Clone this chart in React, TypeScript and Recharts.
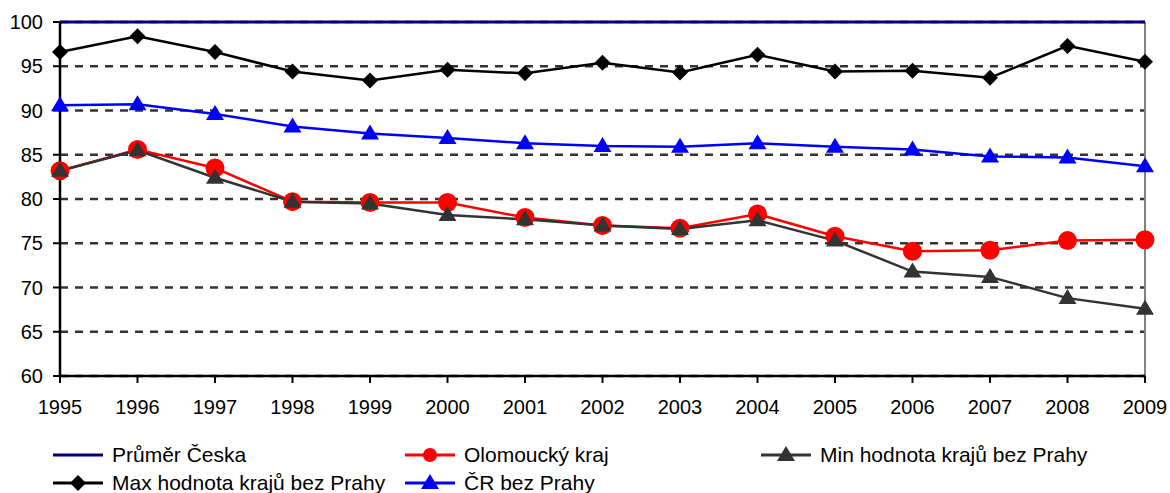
import { LineChart, Line, XAxis, YAxis, CartesianGrid, ReferenceLine } from "recharts";

const years = [1995, 1996, 1997, 1998, 1999, 2000, 2001, 2002, 2003, 2004, 2005, 2006, 2007, 2008, 2009];
const prumerCeska = [100, 100, 100, 100, 100, 100, 100, 100, 100, 100, 100, 100, 100, 100, 100];
const olomouckyKraj = [83.2, 85.6, 83.5, 79.7, 79.6, 79.6, 77.9, 77.0, 76.7, 78.3, 75.8, 74.1, 74.2, 75.3, 75.4];
const minKraju = [83.2, 85.5, 82.4, 79.7, 79.5, 78.2, 77.7, 77.0, 76.6, 77.6, 75.3, 71.8, 71.2, 68.8, 67.6];
const maxKraju = [96.6, 98.4, 96.6, 94.4, 93.4, 94.6, 94.2, 95.4, 94.3, 96.3, 94.4, 94.5, 93.7, 97.3, 95.5];
const crBezPrahy = [90.6, 90.7, 89.6, 88.2, 87.4, 86.9, 86.3, 86.0, 85.9, 86.3, 85.9, 85.6, 84.8, 84.7, 83.7];
const yTicks = [60, 65, 70, 75, 80, 85, 90, 95, 100];

const data = years.map((year, i) => ({
  year,
  prumer: prumerCeska[i],
  olomouc: olomouckyKraj[i],
  min: minKraju[i],
  max: maxKraju[i],
  cr: crBezPrahy[i],
}));

const FONT = "'Liberation Sans', Arial, sans-serif";

function triangle(cx: number, cy: number, fill: string, key?: string) {
  return <path key={key} d={`M${cx},${cy - 9}L${cx + 9},${cy + 6}L${cx - 9},${cy + 6}Z`} fill={fill} />;
}

function diamond(cx: number, cy: number, key?: string) {
  return <path key={key} d={`M${cx},${cy - 8}L${cx + 8},${cy}L${cx},${cy + 8}L${cx - 8},${cy}Z`} fill="#000" />;
}

const TriDot = (color: string) => (props: any) =>
  triangle(props.cx, props.cy, color, `t-${color}-${props.index}`);
const DiamondDot = (props: any) => diamond(props.cx, props.cy, `d-${props.index}`);

// legend drawn separately, positions follow the reference layout
const legendItems = [
  { name: "Průměr Česka", color: "#000080", marker: "none", x: 53, row: 0 },
  { name: "Olomoucký kraj", color: "#ff0000", marker: "circle", x: 405, row: 0 },
  { name: "Min hodnota krajů bez Prahy", color: "#333333", marker: "triangle", x: 761, row: 0 },
  { name: "Max hodnota krajů bez Prahy", color: "#000000", marker: "diamond", x: 53, row: 1 },
  { name: "ČR bez Prahy", color: "#0000ff", marker: "triangle", x: 405, row: 1 },
];

function ChartLegend() {
  return (
    <svg width={1170} height={63} style={{ position: "absolute", left: 0, top: 430 }}>
      {legendItems.map((it) => {
        const y = 25 + it.row * 28;
        const mx = it.x + 25;
        return (
          <g key={it.name}>
            <line x1={it.x} x2={it.x + 50} y1={y} y2={y} stroke={it.color} strokeWidth={3} />
            {it.marker === "circle" && <circle cx={mx} cy={y} r={7} fill={it.color} />}
            {it.marker === "triangle" && triangle(mx, y, it.color)}
            {it.marker === "diamond" && diamond(mx, y)}
            <text x={it.x + 59} y={y + 7} fontSize={21} fontFamily={FONT} fill="#000">
              {it.name}
            </text>
          </g>
        );
      })}
    </svg>
  );
}

export default function App() {
  return (
    <div style={{ position: "absolute", left: 0, top: 0, width: 1170, height: 493, background: "#fff" }}>
      <LineChart
        width={1170}
        height={493}
        data={data}
        margin={{ top: 22, right: 25, left: 0, bottom: 77 }}
      >
        <CartesianGrid
          horizontal
          vertical={false}
          stroke="#333"
          strokeWidth={2.5}
          strokeDasharray="8 7"
        />
        <XAxis
          dataKey="year"
          type="number"
          domain={[1995, 2009]}
          ticks={years}
          interval={0}
          height={40}
          axisLine={{ stroke: "#000", strokeWidth: 2.5 }}
          tickLine={{ stroke: "#000", strokeWidth: 2 }}
          tickSize={7}
          tickMargin={17}
          tick={{ fontSize: 20, fill: "#000", fontFamily: FONT }}
        />
        <YAxis
          domain={[60, 100]}
          ticks={yTicks}
          interval={0}
          width={60}
          axisLine={{ stroke: "#000", strokeWidth: 2.5 }}
          tickLine={{ stroke: "#000", strokeWidth: 2 }}
          tickSize={7}
          tickMargin={10}
          tick={{ fontSize: 20, fill: "#000", fontFamily: FONT }}
        />
        <ReferenceLine x={2009} stroke="#808080" strokeWidth={2} />
        <Line
          dataKey="prumer"
          name="Průměr Česka"
          stroke="#000080"
          strokeWidth={3}
          dot={false}
          isAnimationActive={false}
        />
        <Line
          dataKey="olomouc"
          name="Olomoucký kraj"
          stroke="#ff0000"
          strokeWidth={2.5}
          dot={{ r: 9.5, fill: "#ff0000", stroke: "none" }}
          isAnimationActive={false}
        />
        <Line
          dataKey="min"
          name="Min hodnota krajů bez Prahy"
          stroke="#333333"
          strokeWidth={2.5}
          dot={TriDot("#333333")}
          isAnimationActive={false}
        />
        <Line
          dataKey="max"
          name="Max hodnota krajů bez Prahy"
          stroke="#000000"
          strokeWidth={2.5}
          dot={DiamondDot}
          isAnimationActive={false}
        />
        <Line
          dataKey="cr"
          name="ČR bez Prahy"
          stroke="#0000ff"
          strokeWidth={2.5}
          dot={TriDot("#0000ff")}
          isAnimationActive={false}
        />
      </LineChart>
      <ChartLegend />
    </div>
  );
}
